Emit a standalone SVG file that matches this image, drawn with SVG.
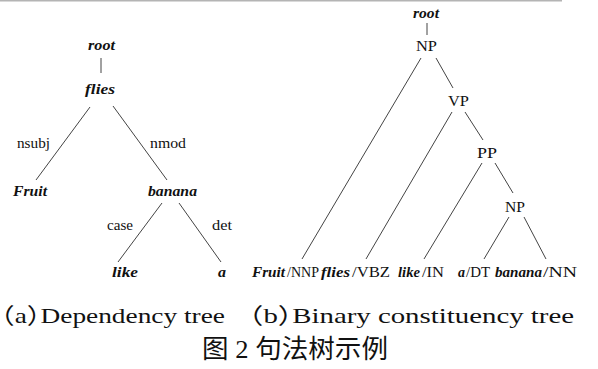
<svg xmlns="http://www.w3.org/2000/svg" width="598" height="369" viewBox="0 0 598 369">
<style>
text { fill: #111; font-family: "Liberation Serif", "DejaVu Serif", "Noto Sans CJK SC", serif; }
.w { font-size: 15px; font-weight: bold; font-style: italic; }
.l { font-size: 15px; }
.cap { font-size: 22px; font-feature-settings: "halt" 1; }
.cjk { font-size: 26px; }
.e line { stroke: #444; stroke-width: 1; }
</style>
<rect width="598" height="369" fill="#fff"/>
<line x1="0" y1="0.7" x2="562" y2="0.7" stroke="#b4b4b4" stroke-width="1.5"/>

<!-- Dependency tree connectors -->
<g id="dep-edges" class="e">
  <line x1="101" y1="58" x2="101" y2="73"/>
  <line x1="90" y1="107" x2="36" y2="180"/>
  <line x1="113" y1="106" x2="167" y2="180"/>
  <line x1="162" y1="203" x2="118" y2="262"/>
  <line x1="179" y1="203" x2="221" y2="262"/>
</g>
<g id="dep-labels">
  <text class="l" x="17" y="148" textLength="33" lengthAdjust="spacingAndGlyphs">nsubj</text>
  <text class="l" x="150" y="148" textLength="36" lengthAdjust="spacingAndGlyphs">nmod</text>
  <text class="l" x="107" y="230" textLength="26" lengthAdjust="spacingAndGlyphs">case</text>
  <text class="l" x="212" y="230" textLength="20" lengthAdjust="spacingAndGlyphs">det</text>
</g>
<g id="dep-root"><text class="w" x="88" y="50" textLength="27" lengthAdjust="spacingAndGlyphs">root</text></g>
<g id="dep-flies"><text class="w" x="85" y="94" textLength="30" lengthAdjust="spacingAndGlyphs">flies</text></g>
<g id="dep-fruit"><text class="w" x="13" y="196" textLength="34" lengthAdjust="spacingAndGlyphs">Fruit</text></g>
<g id="dep-banana"><text class="w" x="148" y="196" textLength="49" lengthAdjust="spacingAndGlyphs">banana</text></g>
<g id="dep-like"><text class="w" x="112" y="277" textLength="26" lengthAdjust="spacingAndGlyphs">like</text></g>
<g id="dep-a"><text class="w" x="218" y="277" textLength="8" lengthAdjust="spacingAndGlyphs">a</text></g>

<!-- Constituency tree connectors -->
<g id="con-edges" class="e">
  <line x1="427" y1="23" x2="427" y2="35"/>
  <line x1="421" y1="58" x2="302" y2="259"/>
  <line x1="436" y1="58" x2="453" y2="88"/>
  <line x1="452" y1="112" x2="366" y2="259"/>
  <line x1="465" y1="112" x2="483" y2="140"/>
  <line x1="482" y1="163" x2="424" y2="259"/>
  <line x1="495" y1="163" x2="513" y2="193"/>
  <line x1="509" y1="217" x2="484" y2="259"/>
  <line x1="524" y1="217" x2="546" y2="259"/>
</g>
<g id="con-root"><text class="w" x="413" y="18" textLength="26" lengthAdjust="spacingAndGlyphs">root</text></g>
<g id="con-np1"><text class="l" x="416" y="51" textLength="21" lengthAdjust="spacingAndGlyphs">NP</text></g>
<g id="con-vp"><text class="l" x="448" y="106" textLength="21" lengthAdjust="spacingAndGlyphs">VP</text></g>
<g id="con-pp"><text class="l" x="477" y="158" textLength="20" lengthAdjust="spacingAndGlyphs">PP</text></g>
<g id="con-np2"><text class="l" x="505" y="212" textLength="20" lengthAdjust="spacingAndGlyphs">NP</text></g>
<g id="con-fruit"><text x="252" y="277"><tspan class="w" textLength="33" lengthAdjust="spacingAndGlyphs">Fruit</tspan><tspan class="l" x="287" textLength="32" lengthAdjust="spacingAndGlyphs">/NNP</tspan></text></g>
<g id="con-flies"><text x="321" y="277"><tspan class="w" textLength="29" lengthAdjust="spacingAndGlyphs">flies</tspan><tspan class="l" x="352" textLength="38" lengthAdjust="spacingAndGlyphs">/VBZ</tspan></text></g>
<g id="con-like"><text x="398" y="277"><tspan class="w" textLength="22" lengthAdjust="spacingAndGlyphs">like</tspan><tspan class="l" x="422" textLength="22" lengthAdjust="spacingAndGlyphs">/IN</tspan></text></g>
<g id="con-a"><text x="458" y="277"><tspan class="w" textLength="7" lengthAdjust="spacingAndGlyphs">a</tspan><tspan class="l" x="466" textLength="24" lengthAdjust="spacingAndGlyphs">/DT</tspan></text></g>
<g id="con-banana"><text x="495" y="277"><tspan class="w" textLength="47" lengthAdjust="spacingAndGlyphs">banana</tspan><tspan class="l" x="543" textLength="34" lengthAdjust="spacingAndGlyphs">/NN</tspan></text></g>

<!-- Captions -->
<g id="caption-a"><text class="cap" x="1" y="323" textLength="224" lengthAdjust="spacingAndGlyphs">（a）Dependency tree</text></g>
<g id="caption-b"><text class="cap" x="249" y="323" textLength="325" lengthAdjust="spacingAndGlyphs">（b）Binary constituency tree</text></g>
<g id="caption-fig"><text class="cjk" x="202" y="358" textLength="186" lengthAdjust="spacingAndGlyphs">图 2 句法树示例</text></g>
</svg>
